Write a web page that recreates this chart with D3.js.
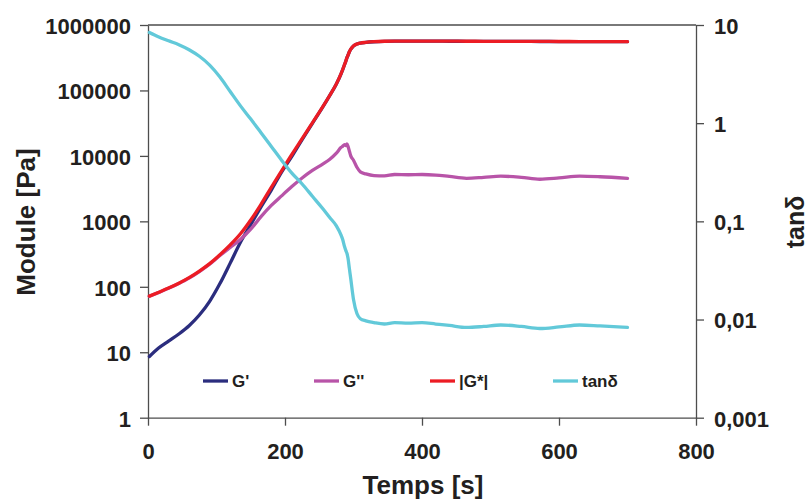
<!DOCTYPE html>
<html>
<head>
<meta charset="utf-8">
<script src="https://cdn.jsdelivr.net/npm/d3@7/dist/d3.min.js"></script>
<style>
  html, body { margin: 0; padding: 0; background: #fff; }
  svg { display: block; }
  text { font-family: "Liberation Sans", Arial, sans-serif; font-weight: bold; fill: #231f20; }
</style>
</head>
<body>
<svg id="chart" width="808" height="502"></svg>
<script>
// ---- data ----
const timeS = [2, 15, 30, 45, 60, 75, 90, 105, 120, 135, 150, 165, 180, 195, 210, 225, 240, 255, 265, 275, 282, 284, 287, 289, 290.5, 292, 294, 296, 300, 305, 310, 318, 330, 345, 360, 380, 400, 420, 440, 465, 490, 515, 545, 572, 600, 630, 660, 700];
const gPrime = [8.6, 11.5, 14.8, 19, 25.4, 37, 60, 112, 230, 480, 890, 1660, 3000, 5650, 9800, 17700, 31400, 55500, 82500, 125500, 181500, 205000, 249000, 285000, 318000, 345000, 390000, 426000, 479000, 512000, 529000, 542000, 555000, 564000, 567000, 568000, 567000, 566000, 565000, 564000, 563000, 562000, 561000, 560000, 559000, 558000, 557000, 556000];
const gSecond = [71.5, 81.5, 95, 112.5, 136, 171, 221, 300, 400, 530, 760, 1180, 1750, 2450, 3400, 4600, 6000, 7500, 8800, 11000, 13500, 14000, 14900, 14400, 15200, 14000, 11800, 10000, 8600, 6700, 5700, 5300, 5000, 4950, 5200, 5150, 5200, 5100, 4850, 4550, 4700, 4900, 4700, 4400, 4600, 4900, 4800, 4550];
const gStar = [72, 82, 95.5, 113.5, 138, 174, 226, 309, 437, 646, 1050, 1820, 3310, 5900, 10500, 18300, 32000, 56000, 83000, 126000, 182000, 205500, 250000, 285500, 318500, 345500, 390500, 427000, 480000, 513000, 530000, 543000, 556000, 565000, 568000, 569000, 568000, 567000, 566000, 565000, 564000, 563000, 562000, 561000, 560000, 559000, 558000, 557000];
const tanDelta = [8.4, 7.6, 6.9, 6.3, 5.6, 4.8, 3.9, 2.95, 2.1, 1.5, 1.1, 0.8, 0.58, 0.42, 0.31, 0.24, 0.18, 0.135, 0.11, 0.09, 0.072, 0.066, 0.055, 0.05, 0.047, 0.042, 0.033, 0.026, 0.016, 0.0115, 0.0102, 0.0097, 0.0093, 0.009, 0.0093, 0.0092, 0.0093, 0.009, 0.0087, 0.0083, 0.0085, 0.0088, 0.0085, 0.0081, 0.0084, 0.0088, 0.0086, 0.0083];

const xTicks = [0, 200, 400, 600, 800];
const leftTicks = [1, 10, 100, 1000, 10000, 100000, 1000000];
const leftTickLabels = ["1", "10", "100", "1000", "10000", "100000", "1000000"];
const rightTicks = [0.001, 0.01, 0.1, 1, 10];
const rightTickLabels = ["0,001", "0,01", "0,1", "1", "10"];

const seriesNames = ["G'", "G''", "|G*|", "tanδ"];
const seriesColors = ["#2b2d7e", "#b854a8", "#ec1c24", "#62c9d9"];

// ---- layout ----
const svg = d3.select("#chart");
const X0 = 148, X1 = 696, Y0 = 417.7, Y1 = 25;

const x = d3.scaleLinear().domain([0, 800]).range([X0, X1]);
const yL = d3.scaleLog().domain([1, 1e6]).range([Y0, Y1]);
const yR = d3.scaleLog().domain([0.001, 10]).range([Y0, Y1]);

const axisColor = "#4d4d4d";

// top border
svg.append("line").attr("x1", X0).attr("x2", X1).attr("y1", Y1).attr("y2", Y1)
  .attr("stroke", axisColor).attr("stroke-width", 1.3);

// left axis
const gl = svg.append("g").attr("transform", `translate(${X0},0)`)
  .call(d3.axisLeft(yL).tickValues(leftTicks)
    .tickFormat((d, i) => leftTickLabels[i]).tickSize(8).tickSizeOuter(0).tickPadding(9));
// right axis
const gr = svg.append("g").attr("transform", `translate(${X1},0)`)
  .call(d3.axisRight(yR).tickValues(rightTicks)
    .tickFormat((d, i) => rightTickLabels[i]).tickSize(8).tickSizeOuter(0).tickPadding(10));
// bottom axis
const gb = svg.append("g").attr("transform", `translate(0,${Y0})`)
  .call(d3.axisBottom(x).tickValues(xTicks).tickFormat(d3.format("d"))
    .tickSize(8).tickSizeOuter(0).tickPadding(18));

[gl, gr, gb].forEach(g => {
  g.select(".domain").attr("stroke", axisColor).attr("stroke-width", 1.3);
  g.selectAll(".tick line").attr("stroke", axisColor).attr("stroke-width", 1.3);
  g.selectAll(".tick text").style("font-size", "22px").style("font-family", "'Liberation Sans', Arial, sans-serif")
    .style("font-weight", "bold").attr("fill", "#231f20");
});
gl.selectAll(".tick text").attr("dy", "0.38em");
gr.selectAll(".tick text").attr("dy", "0.38em");

// axis titles
svg.append("text").attr("transform", "translate(423,494)").attr("text-anchor", "middle")
  .style("font-size", "26px").text("Temps [s]");
svg.append("text").attr("transform", "translate(35,222) rotate(-90)").attr("text-anchor", "middle")
  .style("font-size", "26px").text("Module [Pa]");
svg.append("text").attr("transform", "translate(804,222) rotate(-90)").attr("text-anchor", "middle")
  .style("font-size", "25px").text("tanδ");

// series
const seriesData = [gPrime, gSecond, gStar, tanDelta];
const lineL = vals => d3.line().x((d, i) => x(timeS[i])).y((d) => yL(d)).curve(d3.curveMonotoneX)(vals);
const lineR = vals => d3.line().x((d, i) => x(timeS[i])).y((d) => yR(d)).curve(d3.curveMonotoneX)(vals);

seriesData.forEach((vals, k) => {
  svg.append("path")
    .attr("d", k === 3 ? lineR(vals) : lineL(vals))
    .attr("fill", "none")
    .attr("stroke", seriesColors[k])
    .attr("stroke-width", 3.3)
    .attr("stroke-linejoin", "round")
    .attr("stroke-linecap", "round");
});

// legend
const legendX = [203, 314, 430, 553];
const legendY = 381;
seriesNames.forEach((name, k) => {
  svg.append("line").attr("x1", legendX[k]).attr("x2", legendX[k] + 25)
    .attr("y1", legendY).attr("y2", legendY)
    .attr("stroke", seriesColors[k]).attr("stroke-width", 3.3);
  svg.append("text").attr("x", legendX[k] + 29).attr("y", legendY + 6)
    .style("font-size", "17px").text(name);
});
</script>
</body>
</html>
